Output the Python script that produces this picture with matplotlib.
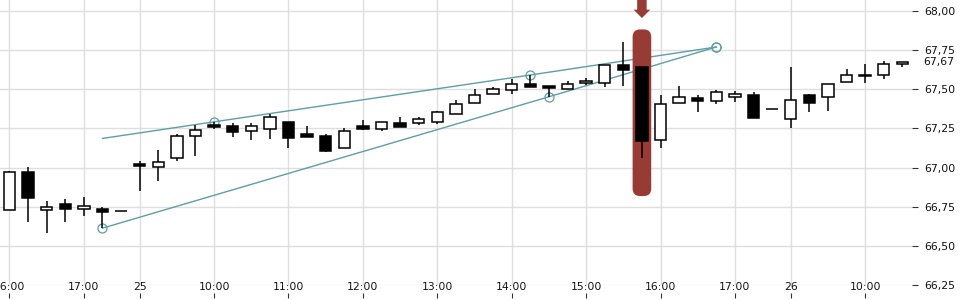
import numpy as np
import pandas as pd
import matplotlib
matplotlib.use("Agg")
import matplotlib.pyplot as plt
from matplotlib.patches import FancyBboxPatch
from matplotlib.ticker import FuncFormatter, MultipleLocator
import matplotlib.transforms as mtransforms

# 15-minute candles over three sessions (day 24 afternoon, day 25, day 26 morning)
sessions = [("2021-03-24 16:00", "2021-03-24 17:30"),
            ("2021-03-25 09:00", "2021-03-25 17:30"),
            ("2021-03-26 09:00", "2021-03-26 10:30")]
times = pd.DatetimeIndex(np.concatenate(
    [pd.date_range(a, b, freq="15min").values for a, b in sessions]))

opens = [66.732, 66.971, 66.732, 66.770, 66.738, 66.734, 66.721,
         67.022, 67.001, 67.058, 67.199, 67.271, 67.263, 67.231, 67.247,
         67.290, 67.214, 67.199, 67.122, 67.263, 67.247, 67.284, 67.282,
         67.288, 67.340, 67.410, 67.467, 67.493, 67.533, 67.519, 67.499,
         67.538, 67.538, 67.657, 67.642, 67.173, 67.410, 67.442, 67.426,
         67.448, 67.461, 67.371,
         67.308, 67.461, 67.448, 67.544, 67.593, 67.589, 67.659]
highs = [66.979, 67.001, 66.785, 66.802, 66.809, 66.749, 66.721,
         67.041, 67.111, 67.214, 67.271, 67.292, 67.282, 67.282, 67.341,
         67.290, 67.265, 67.214, 67.252, 67.303, 67.288, 67.322, 67.322,
         67.363, 67.431, 67.499, 67.512, 67.565, 67.591, 67.519, 67.552,
         67.570, 67.655, 67.800, 67.642, 67.463, 67.520, 67.463, 67.495,
         67.490, 67.482, 67.371,
         67.644, 67.469, 67.531, 67.629, 67.661, 67.680, 67.672]
lows = [66.728, 66.653, 66.579, 66.653, 66.691, 66.613, 66.721,
        66.851, 66.915, 67.043, 67.075, 67.244, 67.196, 67.175, 67.184,
        67.126, 67.196, 67.097, 67.122, 67.241, 67.235, 67.260, 67.269,
        67.276, 67.340, 67.410, 67.467, 67.471, 67.512, 67.452, 67.499,
        67.527, 67.516, 67.520, 67.058, 67.126, 67.410, 67.356, 67.407,
        67.416, 67.318, 67.371,
        67.254, 67.356, 67.363, 67.544, 67.542, 67.567, 67.644]
closes = [66.969, 66.806, 66.749, 66.736, 66.753, 66.717, 66.721,
          67.011, 67.035, 67.201, 67.237, 67.260, 67.228, 67.263, 67.320,
          67.190, 67.196, 67.103, 67.233, 67.247, 67.288, 67.260, 67.308,
          67.354, 67.405, 67.461, 67.499, 67.533, 67.512, 67.510, 67.531,
          67.552, 67.655, 67.625, 67.171, 67.405, 67.448, 67.426, 67.480,
          67.467, 67.318, 67.371,
          67.429, 67.410, 67.531, 67.589, 67.584, 67.661, 67.672]

# wedge trend lines (candle index, price); circles drawn at the anchor points
upper_idx = [5, 11, 28, 38]
upper_val = [67.186, 67.292, 67.591, 67.770]
upper_marked = [False, True, True, True]
lower_idx = [5, 29, 38]
lower_val = [66.613, 67.452, 67.770]

highlight_idx = 34          # candle marked with the red bar and arrow
highlight_pad = 0.24

TEAL = "#5d9fa7"
RED = "#983b34"
GRID = "#dedede"

fig = plt.figure(figsize=(9.6, 3.0), dpi=100)
ax = fig.add_axes([0.0, 0.05, 0.95, 0.95])

x = np.arange(len(times))
o, h, l, c = map(np.asarray, (opens, highs, lows, closes))
up = c >= o

# trend lines
ax.plot(upper_idx, upper_val, color=TEAL, lw=1.0, zorder=1)
ax.plot(lower_idx, lower_val, color=TEAL, lw=1.0, zorder=1)
mi = [i for i, m in zip(upper_idx, upper_marked) if m]
mv = [v for v, m in zip(upper_val, upper_marked) if m]
ax.plot(mi + lower_idx, mv + lower_val, ls="none", marker="o", ms=6.5,
        mfc="none", mec=TEAL, mew=0.9, zorder=1.5)

# red highlight bar behind the candle
px_per_idx = 18.6
px_per_price = 156.4
hb = FancyBboxPatch((highlight_idx - 0.5, l[highlight_idx] - highlight_pad),
                    1.0, h[highlight_idx] - l[highlight_idx] + 2 * highlight_pad,
                    boxstyle="round,pad=0,rounding_size=0.4",
                    mutation_aspect=px_per_idx / px_per_price,
                    fc=RED, ec="none", zorder=2)
ax.add_patch(hb)

# arrow at the top pointing at the highlighted candle
ax.annotate("", xy=(highlight_idx, 1 - 18 / 285), xycoords=("data", "axes fraction"),
            xytext=(highlight_idx, 1.02), textcoords=("data", "axes fraction"),
            arrowprops=dict(arrowstyle="simple,head_length=0.6,head_width=1.2,tail_width=0.68",
                            mutation_scale=10, fc=RED, ec="none",
                            shrinkA=0, shrinkB=0))

# candles
ax.vlines(x, l, h, color="black", lw=1.1, zorder=3)
ax.bar(x, np.abs(c - o), bottom=np.minimum(o, c), width=0.62,
       color=np.where(up, "white", "black"), edgecolor="black",
       linewidth=1.1, zorder=4)

# axes, grid
ax.set_xlim(-0.51, 48.52)
ax.set_ylim(66.25, 68.07)
for s in ax.spines.values():
    s.set_visible(False)

tick_pos, tick_lab = [], []
for i, t in enumerate(times):
    if t.hour == 9 and t.minute == 0:
        tick_pos.append(i)
        tick_lab.append(str(t.day))
    elif t.minute == 0:
        tick_pos.append(i)
        tick_lab.append(t.strftime("%H:%M"))
ax.set_xticks(tick_pos)
ax.set_xticklabels(tick_lab)
ax.tick_params(axis="x", length=0, pad=-2.3, labelsize=7.8, labelcolor="#111")
tr = mtransforms.blended_transform_factory(ax.transData, ax.transAxes)
ax.vlines(tick_pos, -8 / 285, -13 / 285, transform=tr, color="#333",
          lw=0.8, clip_on=False)

ax.yaxis.tick_right()
ax.yaxis.set_major_locator(MultipleLocator(0.25))
ax.yaxis.set_major_formatter(FuncFormatter(lambda v, p: f"{v:.2f}".replace(".", ",")))
ax.tick_params(axis="y", length=4, width=0.8, color="#333", pad=5,
               labelsize=7.8, labelcolor="#111")

ax.grid(True, color=GRID, lw=1.0, zorder=0)
ax.set_axisbelow(True)

# last price label
ax.annotate(f"{c[-1]:.2f}".replace(".", ","), xy=(1, c[-1]),
            xycoords=("axes fraction", "data"), xytext=(7.8, 0),
            textcoords="offset points", va="center", ha="left",
            fontsize=7.8, color="#111")

fig.savefig("out.png", dpi=100)
